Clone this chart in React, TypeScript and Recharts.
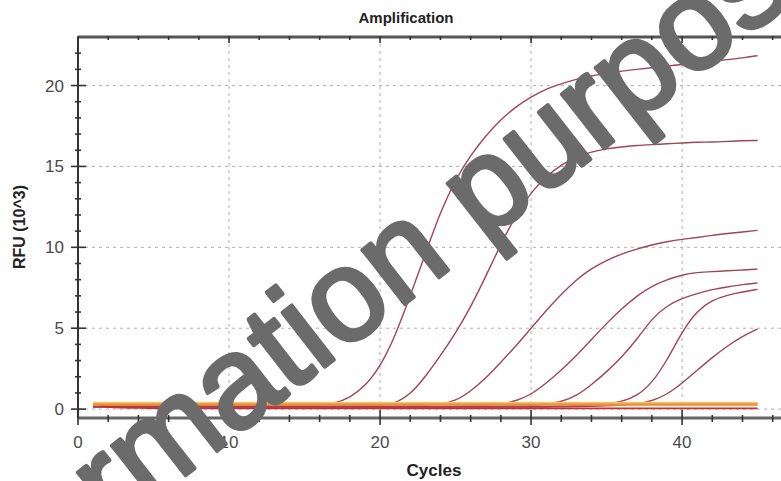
import { LineChart, Line, XAxis, YAxis, ReferenceLine } from 'recharts';

const cycles = [
  1, 2, 3, 4, 5, 6, 7, 8, 9, 10, 11, 12, 13, 14, 15,
  16, 17, 18, 19, 20, 21, 22, 23, 24, 25, 26, 27, 28, 29, 30,
  31, 32, 33, 34, 35, 36, 37, 38, 39, 40, 41, 42, 43, 44, 45,
];

// amplifying wells (RFU x 10^3)
const wellA = [
  0.22, 0.21, 0.2, 0.2, 0.2, 0.2, 0.2, 0.2, 0.2, 0.2, 0.2, 0.2, 0.21, 0.22, 0.24,
  0.27, 0.35, 0.7, 1.4, 2.6, 4.5, 7.0, 9.6, 12.2, 14.2, 15.7, 16.9, 17.9, 18.7, 19.3,
  19.8, 20.1, 20.4, 20.6, 20.75, 20.9, 21.0, 21.1, 21.2, 21.3, 21.4, 21.5, 21.6, 21.7, 21.85,
];
const wellB = [
  0.2, 0.19, 0.18, 0.18, 0.18, 0.18, 0.18, 0.18, 0.18, 0.18, 0.18, 0.18, 0.18, 0.18, 0.18,
  0.18, 0.18, 0.19, 0.2, 0.22, 0.35, 0.9, 2.0, 3.3, 4.7, 6.3, 8.2, 10.2, 12.0, 13.4,
  14.4, 15.1, 15.6, 15.9, 16.1, 16.2, 16.3, 16.35, 16.4, 16.45, 16.5, 16.5, 16.55, 16.6, 16.6,
];
const wellC = [
  0.18, 0.18, 0.18, 0.18, 0.18, 0.18, 0.18, 0.18, 0.18, 0.18, 0.18, 0.18, 0.18, 0.18, 0.18,
  0.18, 0.18, 0.18, 0.18, 0.18, 0.18, 0.19, 0.22, 0.3, 0.5, 1.1, 1.9, 2.9, 3.9, 5.0,
  6.1, 7.1, 8.0, 8.7, 9.2, 9.6, 9.9, 10.15, 10.35, 10.5, 10.6, 10.75, 10.85, 10.95, 11.05,
];
const wellD = [
  0.16, 0.16, 0.16, 0.16, 0.16, 0.16, 0.16, 0.16, 0.16, 0.16, 0.16, 0.16, 0.16, 0.16, 0.16,
  0.16, 0.16, 0.16, 0.16, 0.16, 0.16, 0.16, 0.16, 0.17, 0.18, 0.2, 0.22, 0.3, 0.5, 0.9,
  1.6, 2.4, 3.3, 4.3, 5.3, 6.2, 7.0, 7.6, 8.0, 8.3, 8.45, 8.5, 8.55, 8.6, 8.65,
];
const wellE = [
  0.15, 0.15, 0.15, 0.15, 0.15, 0.15, 0.15, 0.15, 0.15, 0.15, 0.15, 0.15, 0.15, 0.15, 0.15,
  0.15, 0.15, 0.15, 0.15, 0.15, 0.15, 0.15, 0.15, 0.15, 0.15, 0.15, 0.16, 0.18, 0.2, 0.22,
  0.3, 0.45, 0.8, 1.5, 2.3, 3.2, 4.3, 5.6, 6.4, 6.85, 7.15, 7.4, 7.55, 7.7, 7.8,
];
const wellF = [
  0.14, 0.14, 0.14, 0.14, 0.14, 0.14, 0.14, 0.14, 0.14, 0.14, 0.14, 0.14, 0.14, 0.14, 0.14,
  0.14, 0.14, 0.14, 0.14, 0.14, 0.14, 0.14, 0.14, 0.14, 0.14, 0.14, 0.14, 0.14, 0.14, 0.14,
  0.16, 0.18, 0.2, 0.24, 0.3, 0.45, 0.8, 1.6, 3.0, 4.8, 6.1, 6.75, 7.05, 7.25, 7.4,
];
const wellG = [
  0.12, 0.12, 0.12, 0.12, 0.12, 0.12, 0.12, 0.12, 0.12, 0.12, 0.12, 0.12, 0.12, 0.12, 0.12,
  0.12, 0.12, 0.12, 0.12, 0.12, 0.12, 0.12, 0.12, 0.12, 0.12, 0.12, 0.12, 0.12, 0.12, 0.12,
  0.13, 0.14, 0.15, 0.17, 0.2, 0.24, 0.3, 0.5, 0.9, 1.6, 2.4, 3.2, 3.9, 4.5, 4.95,
];

// non-amplifying wells
const flatRed = [
  0.32, 0.14, 0.09, 0.07, 0.06, 0.05, 0.05, 0.05, 0.05, 0.05, 0.05, 0.05, 0.05, 0.05, 0.05,
  0.05, 0.05, 0.05, 0.05, 0.05, 0.05, 0.05, 0.05, 0.05, 0.05, 0.05, 0.05, 0.05, 0.05, 0.05,
  0.05, 0.05, 0.05, 0.05, 0.05, 0.05, 0.05, 0.05, 0.05, 0.05, 0.05, 0.05, 0.05, 0.05, 0.05,
];
const flatOrangeLow = [
  0.24, 0.25, 0.25, 0.25, 0.25, 0.25, 0.25, 0.25, 0.25, 0.25, 0.25, 0.25, 0.25, 0.25, 0.25,
  0.25, 0.25, 0.25, 0.25, 0.25, 0.25, 0.25, 0.25, 0.25, 0.25, 0.25, 0.25, 0.25, 0.25, 0.25,
  0.25, 0.25, 0.25, 0.25, 0.25, 0.25, 0.25, 0.25, 0.25, 0.25, 0.25, 0.25, 0.25, 0.25, 0.25,
];
const flatOrangeHigh = [
  0.32, 0.32, 0.32, 0.32, 0.32, 0.32, 0.32, 0.32, 0.32, 0.32, 0.32, 0.32, 0.32, 0.32, 0.32,
  0.32, 0.32, 0.32, 0.32, 0.32, 0.32, 0.32, 0.32, 0.32, 0.32, 0.32, 0.32, 0.32, 0.32, 0.32,
  0.32, 0.32, 0.32, 0.32, 0.32, 0.32, 0.32, 0.32, 0.32, 0.32, 0.32, 0.32, 0.32, 0.32, 0.32,
];
const flatYellow = [
  0.4, 0.4, 0.4, 0.4, 0.4, 0.4, 0.4, 0.4, 0.4, 0.4, 0.4, 0.4, 0.4, 0.4, 0.4,
  0.4, 0.4, 0.4, 0.4, 0.4, 0.4, 0.4, 0.4, 0.4, 0.4, 0.4, 0.4, 0.4, 0.4, 0.4,
  0.4, 0.4, 0.4, 0.4, 0.4, 0.4, 0.4, 0.4, 0.4, 0.4, 0.4, 0.4, 0.4, 0.4, 0.4,
];

const xTicks = [0, 2, 4, 6, 8, 10, 12, 14, 16, 18, 20, 22, 24, 26, 28, 30, 32, 34, 36, 38, 40, 42, 44, 46];
const yTicks = [0, 1, 2, 3, 4, 5, 6, 7, 8, 9, 10, 11, 12, 13, 14, 15, 16, 17, 18, 19, 20, 21, 22];
const xGrid = [10, 20, 30, 40];
const yGrid = [0, 5, 10, 15, 20];

const rows = cycles.map((c, i) => ({
  cycle: c,
  a: wellA[i], b: wellB[i], c: wellC[i], d: wellD[i], e: wellE[i], f: wellF[i], g: wellG[i],
  red: flatRed[i], orLow: flatOrangeLow[i], orHigh: flatOrangeHigh[i], yel: flatYellow[i],
}));

const FONT = '"Liberation Sans", Arial, sans-serif';
const curveKeys = ['a', 'b', 'c', 'd', 'e', 'f', 'g'];

const BottomTick = ({ x, y, payload }: any) => {
  const major = payload.value % 10 === 0;
  return (
    <g>
      <line x1={x} x2={x} y1={y - (major ? 8 : 3)} y2={y + (major ? 7 : 4)} stroke="#333" strokeWidth={1.6} />
      {major && (
        <text x={x} y={y + 30} textAnchor="middle" fontSize={17} fill="#4a4a4a" fontFamily={FONT}>
          {payload.value}
        </text>
      )}
    </g>
  );
};

const TopTick = ({ x, y, payload }: any) => {
  const major = payload.value % 10 === 0;
  return <line x1={x} x2={x} y1={y - 1} y2={y + (major ? 6 : 3)} stroke="#333" strokeWidth={1.6} />;
};

const LeftTick = ({ x, y, payload }: any) => {
  const major = payload.value % 5 === 0;
  return (
    <g>
      <line x1={x - (major ? 7 : 3)} x2={x + (major ? 8 : 3)} y1={y} y2={y} stroke="#333" strokeWidth={1.6} />
      {major && (
        <text x={x - 14} y={y + 6} textAnchor="end" fontSize={17} fill="#4a4a4a" fontFamily={FONT}>
          {payload.value}
        </text>
      )}
    </g>
  );
};

export default function App() {
  return (
    <div style={{ position: 'absolute', left: 0, top: 0, width: 781, height: 481, background: '#fff' }}>
      <LineChart width={781} height={481} data={rows} margin={{ top: 36, right: 0, left: 18, bottom: 33 }}>
        {xGrid.map((v) => (
          <ReferenceLine key={`gx${v}`} x={v} stroke="#b0b0b0" strokeDasharray="3 4" />
        ))}
        {yGrid.map((v) => (
          <ReferenceLine key={`gy${v}`} y={v} stroke="#b0b0b0" strokeDasharray="3 4" />
        ))}
        <XAxis
          dataKey="cycle"
          type="number"
          domain={[0, 46.55]}
          ticks={xTicks}
          interval={0}
          tickSize={0}
          tickMargin={0}
          height={30}
          axisLine={{ stroke: '#666', strokeWidth: 3 }}
          tick={(p: any) => <BottomTick {...p} />}
          allowDataOverflow
        />
        <XAxis
          xAxisId="top"
          orientation="top"
          dataKey="cycle"
          type="number"
          domain={[0, 46.55]}
          ticks={xTicks}
          interval={0}
          tickSize={0}
          tickMargin={0}
          height={1}
          axisLine={{ stroke: '#555', strokeWidth: 3 }}
          tick={(p: any) => <TopTick {...p} />}
          allowDataOverflow
        />
        <YAxis
          type="number"
          domain={[-0.55, 23]}
          ticks={yTicks}
          interval={0}
          tickSize={0}
          tickMargin={0}
          width={60}
          axisLine={{ stroke: '#333', strokeWidth: 2 }}
          tick={(p: any) => <LeftTick {...p} />}
          allowDataOverflow
        />
        {curveKeys.map((k) => (
          <Line
            key={k}
            dataKey={k}
            type="basis"
            stroke="#a0445a"
            strokeWidth={1.4}
            dot={false}
            isAnimationActive={false}
          />
        ))}
        <Line dataKey="red" type="monotone" stroke="#d42828" strokeWidth={1.8} dot={false} isAnimationActive={false} />
        <Line dataKey="yel" type="monotone" stroke="#f8d27e" strokeWidth={2} dot={false} isAnimationActive={false} />
        <Line dataKey="orHigh" type="monotone" stroke="#f0a040" strokeWidth={2.5} dot={false} isAnimationActive={false} />
        <Line dataKey="orLow" type="monotone" stroke="#e8903a" strokeWidth={1.5} dot={false} isAnimationActive={false} />
      </LineChart>
      <svg width={781} height={481} style={{ position: 'absolute', left: 0, top: 0, pointerEvents: 'none' }}>
        <text x={406} y={23} textAnchor="middle" fontSize={15} fontWeight="bold" fill="#222" fontFamily={FONT}>
          Amplification
        </text>
        <text x={434} y={476} textAnchor="middle" fontSize={17} fontWeight="bold" fill="#222" fontFamily={FONT}>
          Cycles
        </text>
        <text
          x={0}
          y={0}
          transform="translate(25 227) rotate(-90)"
          textAnchor="middle"
          fontSize={16}
          fontWeight="bold"
          fill="#222"
          fontFamily={FONT}
        >
          RFU (10^3)
        </text>
        <text
          x={-52}
          y={661}
          transform="rotate(-38 -52 661)"
          fontSize={130}
          fill="#6b6b6b"
          stroke="#6b6b6b"
          strokeWidth={4}
          strokeLinejoin="round"
          fontFamily={FONT}
        >
          information purposes
        </text>
      </svg>
    </div>
  );
}
